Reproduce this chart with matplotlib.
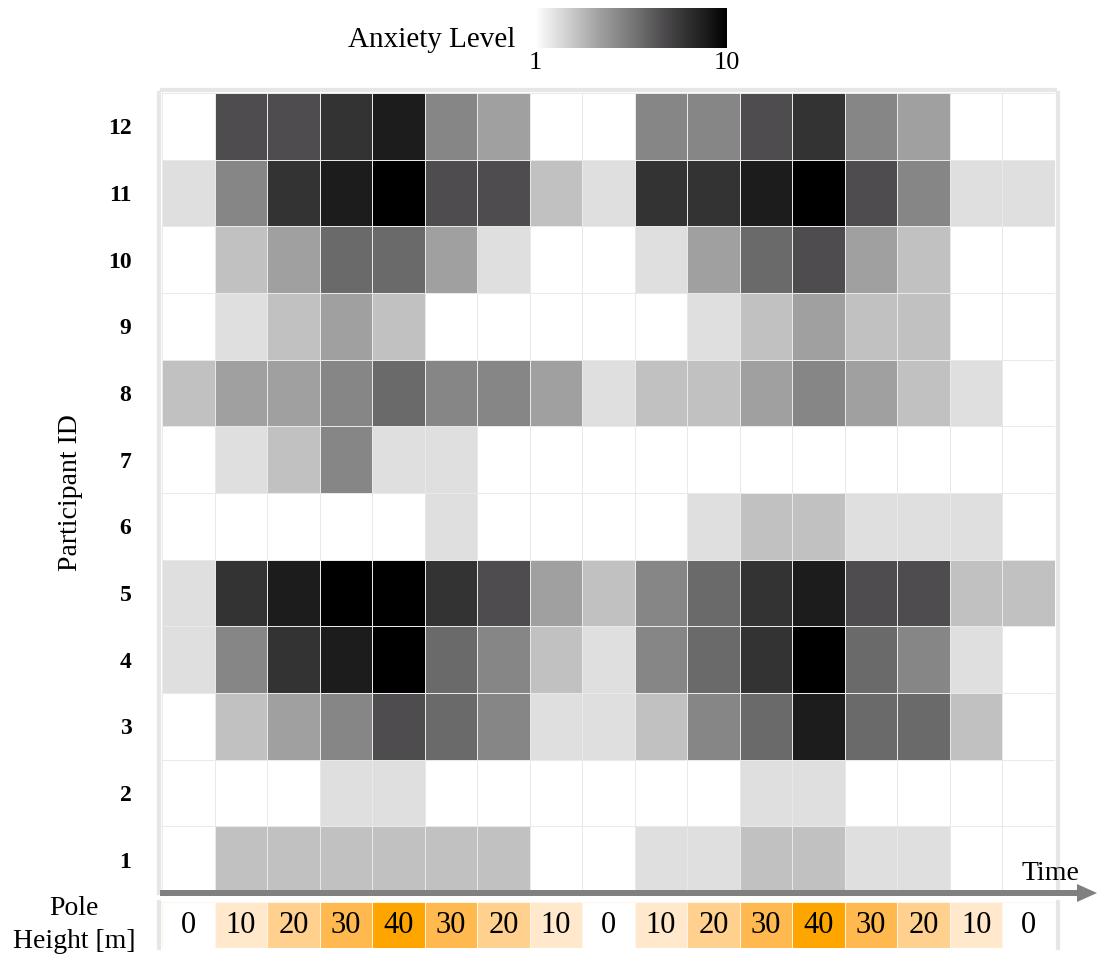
import numpy as np
import matplotlib
matplotlib.use("Agg")
import matplotlib.pyplot as plt
from matplotlib.colors import LinearSegmentedColormap, ListedColormap, BoundaryNorm
from matplotlib.patches import FancyArrow

plt.rcParams['font.family'] = ['Liberation Serif', 'DejaVu Serif']

# anxiety level per participant (rows 1..12) over 17 time steps
participants = list(range(1, 13))
anxiety = [
    [1, 3, 3, 3, 3, 3, 3, 1, 1, 2, 2, 3, 3, 2, 2, 1, 1],     # 1
    [1, 1, 1, 2, 2, 1, 1, 1, 1, 1, 1, 2, 2, 1, 1, 1, 1],     # 2
    [1, 3, 4, 5, 7, 6, 5, 2, 2, 3, 5, 6, 9, 6, 6, 3, 1],     # 3
    [2, 5, 8, 9, 10, 6, 5, 3, 2, 5, 6, 8, 10, 6, 5, 2, 1],   # 4
    [2, 8, 9, 10, 10, 8, 7, 4, 3, 5, 6, 8, 9, 7, 7, 3, 3],   # 5
    [1, 1, 1, 1, 1, 2, 1, 1, 1, 1, 2, 3, 3, 2, 2, 2, 1],     # 6
    [1, 2, 3, 5, 2, 2, 1, 1, 1, 1, 1, 1, 1, 1, 1, 1, 1],     # 7
    [3, 4, 4, 5, 6, 5, 5, 4, 2, 3, 3, 4, 5, 4, 3, 2, 1],     # 8
    [1, 2, 3, 4, 3, 1, 1, 1, 1, 1, 2, 3, 4, 3, 3, 1, 1],     # 9
    [1, 3, 4, 6, 6, 4, 2, 1, 1, 2, 4, 6, 7, 4, 3, 1, 1],     # 10
    [2, 5, 8, 9, 10, 7, 7, 3, 2, 8, 8, 9, 10, 7, 5, 2, 2],   # 11
    [1, 7, 7, 8, 9, 5, 4, 1, 1, 5, 5, 7, 8, 5, 4, 1, 1],     # 12
]
pole_height = [0, 10, 20, 30, 40, 30, 20, 10, 0, 10, 20, 30, 40, 30, 20, 10, 0]

grey_levels = ['#ffffff', '#dfdfdf', '#c0c0c0', '#a0a0a0', '#868686',
               '#6a6a6a', '#4e4c4e', '#343434', '#1c1c1c', '#000000']
pole_colors = ['#ffffff', '#ffe8cb', '#ffd08e', '#ffb94f', '#ffa500']

data = np.array(anxiety)
n_rows, n_cols = data.shape

fig = plt.figure(figsize=(11.08, 9.71), dpi=100)
W, H = 1108, 971

def px_axes(x0, y0, x1, y1):
    return fig.add_axes([x0 / W, 1 - y1 / H, (x1 - x0) / W, (y1 - y0) / H])

# main heatmap
ax = px_axes(162, 93, 1055, 893)
# spines first: set_position resets the ticks
for s in ['left', 'top', 'right']:
    ax.spines[s].set_color('#e6e6e6')
    ax.spines[s].set_linewidth(3)
    ax.spines[s].set_position(('outward', 2))
ax.spines['bottom'].set_visible(False)

cmap = LinearSegmentedColormap.from_list('anx', list(zip(np.linspace(0, 1, 10), grey_levels)))
xe = np.arange(n_cols + 1)
ye = np.arange(n_rows + 1) + 0.5
mesh = ax.pcolormesh(xe, ye, data, cmap=cmap, vmin=1, vmax=10,
                     edgecolors='#e9e9e9', linewidth=0.4)
ax.set_xlim(0, n_cols)
ax.set_ylim(0.5, n_rows + 0.5)
ax.tick_params(axis='y', length=0, pad=20)
ax.set_yticks(participants, [str(p) for p in participants],
              fontsize=17, fontweight='bold')
ax.set_xticks([])
ax.set_ylabel('Participant ID', fontsize=20, labelpad=18)

# pole height row
pax = px_axes(162, 902, 1055, 948)
for s in ['left', 'right']:
    pax.spines[s].set_color('#e6e6e6')
    pax.spines[s].set_linewidth(3)
    pax.spines[s].set_position(('outward', 2))
for s in ['top', 'bottom']:
    pax.spines[s].set_visible(False)
levels = sorted(set(pole_height))
pole_idx = np.array([[levels.index(v) for v in pole_height]])
pax.pcolormesh(xe, [0, 1], pole_idx, cmap=ListedColormap(pole_colors),
               norm=BoundaryNorm(np.arange(-0.5, len(pole_colors)), len(pole_colors)),
               edgecolors='#fff4e8', linewidth=0.4)
for i, v in enumerate(pole_height):
    pax.text(i + 0.5, 0.5, str(v), ha='center', va='center', fontsize=22)
pax.set_xlim(0, n_cols)
pax.set_ylim(0, 1)
pax.set_xticks([])
pax.set_yticks([])

# colorbar on top
cax = px_axes(535, 8, 727, 48)
cb = fig.colorbar(mesh, cax=cax, orientation='horizontal')
cb.set_ticks([1, 10])
cb.ax.tick_params(length=0, labelsize=19, pad=3)
cb.outline.set_visible(False)

# overlay for arrow and free text, in pixel units
ov = fig.add_axes([0, 0, 1, 1], facecolor='none')
ov.set_xlim(0, W)
ov.set_ylim(H, 0)
ov.axis('off')
ov.add_patch(FancyArrow(160, 893, 937, 0, width=6, head_width=18, head_length=20,
                        length_includes_head=True, color='#808080', lw=0))
ov.text(1050, 873, 'Time', ha='center', va='center', fontsize=20)
ov.text(515, 40, 'Anxiety Level', ha='right', va='center', fontsize=21)
ov.text(74, 925, 'Pole\nHeight [m]', ha='center', va='center', fontsize=20,
        linespacing=1.4)

fig.savefig('out.png', dpi=100)
